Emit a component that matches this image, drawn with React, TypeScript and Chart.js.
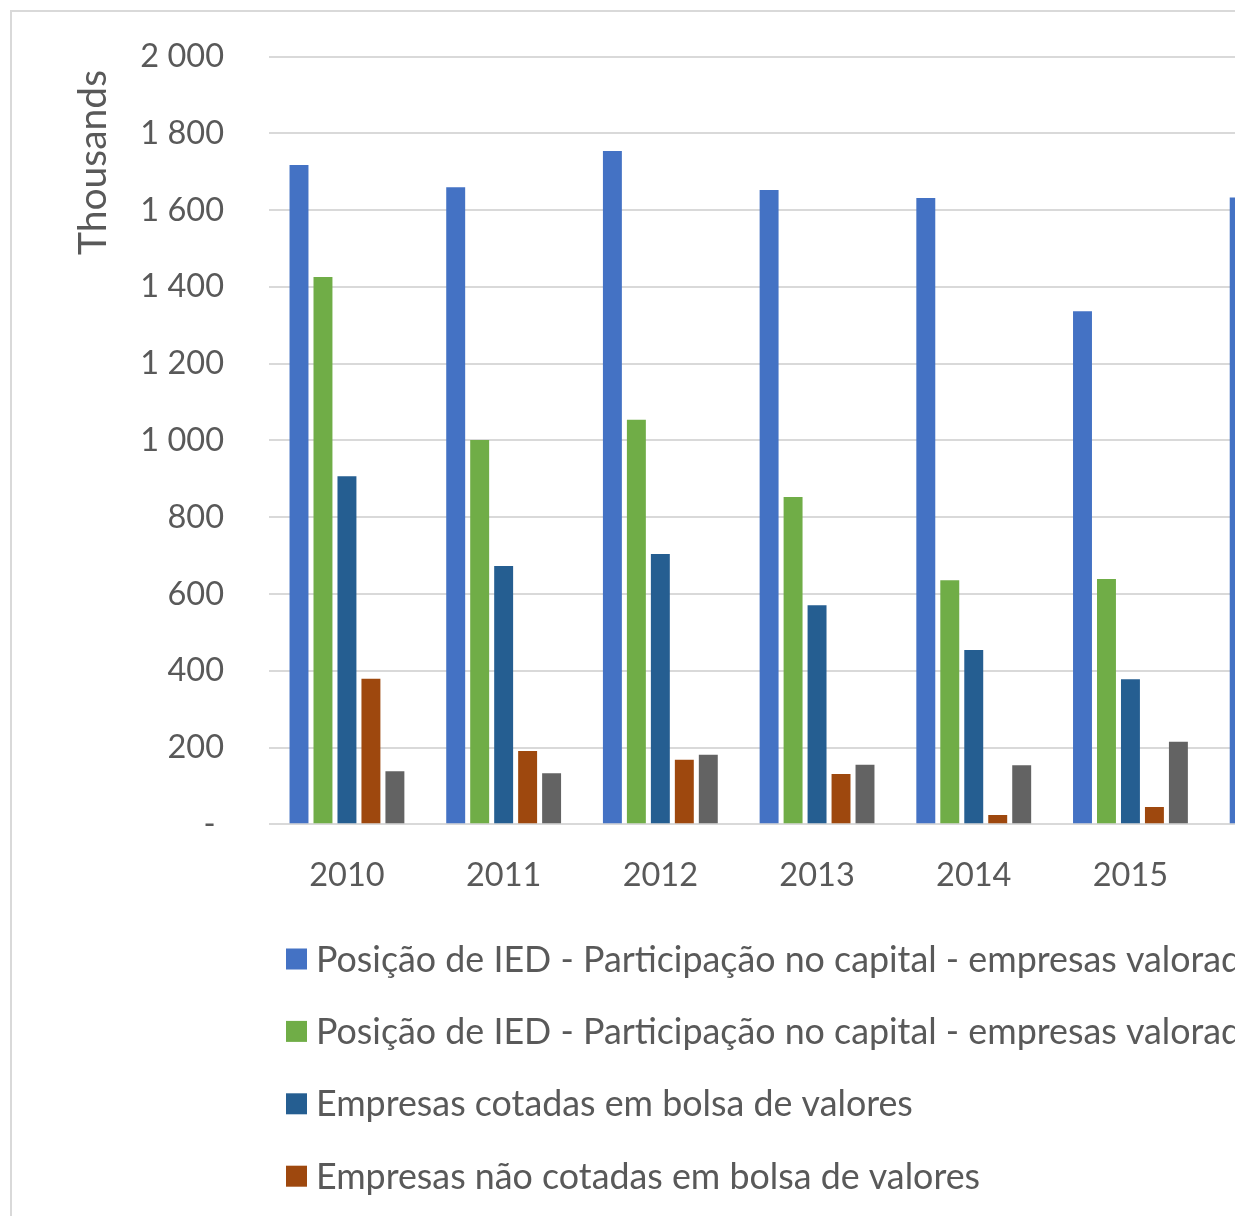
import React, { useEffect, useRef } from "react";
import { Chart, registerables } from "chart.js";

Chart.register(...registerables);

const categories = ["2010", "2011", "2012", "2013", "2014", "2015", "2016"];

const seriesNames = [
  "Posição de IED - Participação no capital - empresas valoradas a preços de mercado",
  "Posição de IED - Participação no capital - empresas valoradas a valor contabilístico",
  "Empresas cotadas em bolsa de valores",
  "Empresas não cotadas em bolsa de valores",
  "Outros",
];

const iedMercado = [1718, 1660, 1754, 1653, 1632, 1337, 1633];
const iedContabilistico = [1426, 1001, 1054, 853, 636, 639, null];
const cotadas = [907, 673, 704, 571, 454, 378, null];
const naoCotadas = [379, 191, 168, 131, 24, 45, null];
const outros = [138, 133, 181, 155, 154, 215, null];

const seriesColors = ["#4472C4", "#70AD47", "#255E91", "#9E480E", "#636363"];

const yMin = 0;
const yMax = 2000;
const yStep = 200;
const axisTitle = "Thousands";

const FONT = "Lato";
const TEXT = "#595959";

const CANVAS_W = 1500;
const CANVAS_H = 1300;

const titlePlugin = {
  id: "unitTitle",
  afterDraw(chart: any) {
    const ctx = chart.ctx;
    ctx.save();
    ctx.font = `39px ${FONT}`;
    ctx.fillStyle = TEXT;
    ctx.textAlign = "center";
    ctx.textBaseline = "alphabetic";
    ctx.translate(106, 162.5);
    ctx.rotate(-Math.PI / 2);
    ctx.fillText(axisTitle, 0, 0);
    ctx.restore();
  },
};

const legendPlugin = {
  id: "rowLegend",
  afterDraw(chart: any) {
    const ctx = chart.ctx;
    ctx.save();
    ctx.font = `35.8px ${FONT}`;
    ctx.textAlign = "left";
    ctx.textBaseline = "alphabetic";
    chart.data.datasets.forEach((ds: any, i: number) => {
      const cy = 959 + i * 72.4;
      ctx.fillStyle = ds.backgroundColor;
      ctx.fillRect(286, cy - 10.5, 21, 21);
      ctx.fillStyle = TEXT;
      ctx.fillText(ds.label, 316, cy + 12.5);
    });
    ctx.restore();
  },
};

function formatTick(v: number): string {
  if (v === 0) return "- ";
  const s = String(Math.round(v));
  return s.replace(/\B(?=(\d{3})+(?!\d))/g, " ");
}

export default function App() {
  const ref = useRef<HTMLCanvasElement | null>(null);

  useEffect(() => {
    if (!ref.current) return;
    const values = [iedMercado, iedContabilistico, cotadas, naoCotadas, outros];
    const chart = new Chart(ref.current, {
      type: "bar",
      data: {
        labels: categories,
        datasets: values.map((d, i) => ({
          label: seriesNames[i],
          data: d,
          backgroundColor: seriesColors[i],
          borderWidth: 0,
          categoryPercentage: 0.765,
          barPercentage: 0.79,
        })),
      },
      options: {
        responsive: false,
        animation: false,
        devicePixelRatio: 1,
        layout: {
          padding: { left: 0, top: 56.7, right: CANVAS_W - 1365.5, bottom: CANVAS_H - 824.3 - 100 },
        },
        plugins: {
          legend: { display: false },
          tooltip: { enabled: false },
          title: { display: false },
        },
        scales: {
          x: {
            grid: { display: false },
            border: { display: false },
            ticks: {
              color: TEXT,
              font: { family: FONT, size: 32.5 },
              padding: 24,
              maxRotation: 0,
            },
            afterFit: (scale: any) => {
              scale.height = 100;
            },
          },
          y: {
            min: yMin,
            max: yMax,
            grid: { color: "#d9d9d9", lineWidth: 2, drawTicks: false },
            border: { display: false },
            ticks: {
              stepSize: yStep,
              color: TEXT,
              font: { family: FONT, size: 32.5 },
              padding: 44.6,
              callback: (v: any) => formatTick(Number(v)),
            },
            afterFit: (scale: any) => {
              scale.width = 268.6;
              scale.paddingTop = 0;
              scale.paddingBottom = 0;
            },
          },
        },
      },
      plugins: [titlePlugin, legendPlugin],
    });
    return () => chart.destroy();
  }, []);

  return (
    <div
      style={{
        position: "fixed",
        left: 0,
        top: 0,
        width: 1235,
        height: 1216,
        overflow: "hidden",
        background: "#ffffff",
      }}
    >
      <div
        style={{
          position: "absolute",
          left: 10,
          top: 10,
          width: 2000,
          height: 2000,
          border: "2px solid #d9d9d9",
          boxSizing: "border-box",
        }}
      />
      <canvas
        ref={ref}
        width={CANVAS_W}
        height={CANVAS_H}
        style={{ position: "absolute", left: 0, top: 0, width: CANVAS_W, height: CANVAS_H }}
      />
    </div>
  );
}
